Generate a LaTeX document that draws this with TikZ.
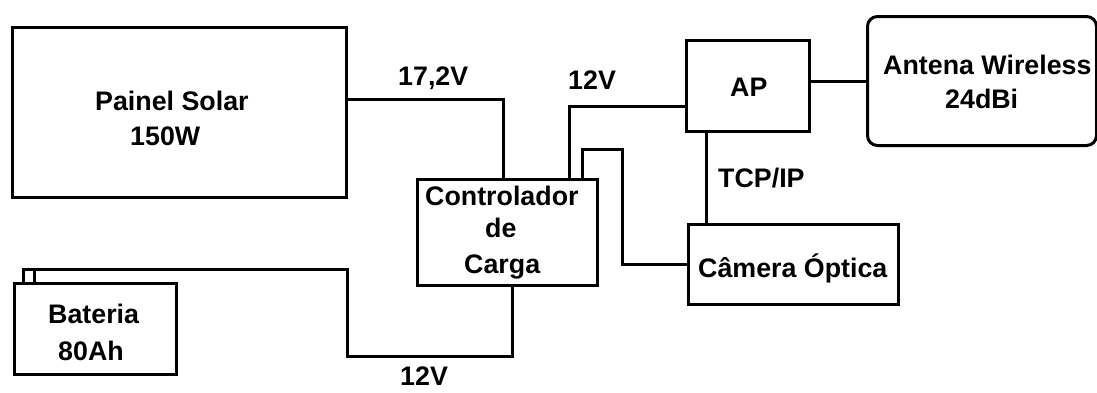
\documentclass[tikz,border=0pt]{standalone}
\usepackage{fontspec}
\setmainfont{Liberation Sans}
\begin{document}
\begin{tikzpicture}[x=1pt,y=-1pt,
  box/.style={draw=black,line width=3pt,rectangle,inner sep=0pt,outer sep=0pt},
  wire/.style={draw=black,line width=3pt},
  lbl/.style={anchor=base west,inner sep=0pt,font=\fontsize{26.8}{30}\selectfont\bfseries}]
\useasboundingbox[fill=white] (0,0) rectangle (1097,392);
% boxes
\node[box,minimum width=334pt,minimum height=170pt] (solar) at (179.5,112) {};
\node[box,minimum width=180pt,minimum height=106pt] (ctrl) at (507.5,232.5) {};
\node[box,minimum width=123pt,minimum height=91pt] (ap) at (748,86) {};
\node[box,rounded corners=10pt,minimum width=229pt,minimum height=129pt] (ant) at (982,81) {};
\node[box,minimum width=210pt,minimum height=80pt] (cam) at (793.5,264.5) {};
\node[box,minimum width=162pt,minimum height=91pt] (bat) at (95.5,329) {};
\node[box,minimum width=11pt,minimum height=13.7pt] (term) at (28.5,276.6) {};
\coordinate (k1) at (622,149);
\coordinate (k2) at (347,356);
% connectors
\draw[wire] ([yshift=13pt]solar.east) -| ([xshift=-4.5pt]ctrl.north);
\draw[wire] ([xshift=61.5pt]ctrl.north) |- ([yshift=-20pt]ap.west);
\draw[wire] ([xshift=74.5pt]ctrl.north) |- (k1) |- (cam.west);
\draw[wire] ([xshift=-42pt]ap.south) -- ([xshift=-87.5pt]cam.north);
\draw[wire] ([yshift=5pt]ap.east) -- (ant.west);
\draw[wire] (term.north west) -| (k2) -| ([xshift=4.5pt]ctrl.south);
% texts
\node[lbl] (tsolar1) at (95,110) {Painel Solar};
\node[lbl] (tsolar2) at (130,145) {150W};
\node[lbl] (tctrl1) at (425,205) {Controlador};
\node[lbl] (tctrl2) at (485,237) {de};
\node[lbl] (tctrl3) at (464,273) {Carga};
\node[lbl] (tap) at (730,96) {AP};
\node[lbl] (tant1) at (883,74) {Antena Wireless};
\node[lbl] (tant2) at (945,108) {24dBi};
\node[lbl] (tcam) at (698,277) {Câmera Óptica};
\node[lbl] (tbat1) at (48,323) {Bateria};
\node[lbl] (tbat2) at (58,360) {80Ah};
\node[lbl] (v1) at (398,85) {17,2V};
\node[lbl] (v2) at (568,89) {12V};
\node[lbl] (v3) at (400,385) {12V};
\node[lbl] (tcp) at (718,187) {TCP/IP};
\end{tikzpicture}
\end{document}
